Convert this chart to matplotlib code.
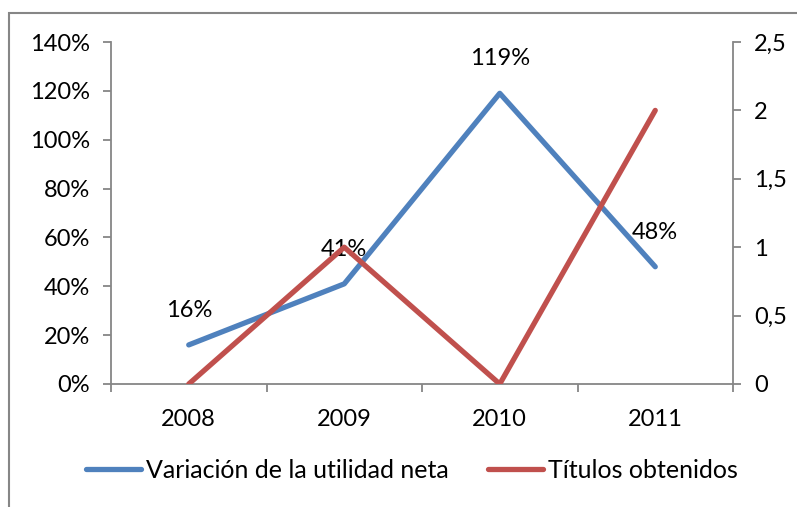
import matplotlib.pyplot as plt
from matplotlib.patches import Rectangle
from matplotlib.lines import Line2D

years = ["2008", "2009", "2010", "2011"]
variacion = [0.16, 0.41, 1.19, 0.48]
titulos = [0, 1, 0, 2]
left_ticks = [0, 0.2, 0.4, 0.6, 0.8, 1.0, 1.2, 1.4]
right_ticks = [0, 0.5, 1, 1.5, 2, 2.5]

blue = "#4F81BD"
red = "#C0504D"
grey = "#868686"

plt.rcParams['font.family'] = ['Lato', 'DejaVu Sans']
fs = 17

fig = plt.figure(figsize=(7.97, 5.07), dpi=100)
# chart border
fig.patches.append(Rectangle((9 / 797, -0.1), 1.0, 1 - 13 / 507 + 0.1, transform=fig.transFigure,
                             fill=False, edgecolor=grey, lw=1.5))

ax = fig.add_axes([111 / 797, 1 - 384 / 507, (733 - 111) / 797, (384 - 42) / 507])
ax2 = ax.twinx()

x = range(len(years))
ax.plot(x, variacion, color=blue, lw=3.8, solid_capstyle='round', zorder=3)
ax2.plot(x, titulos, color=red, lw=3.8, solid_capstyle='round', zorder=3)

for xi, v in zip(x, variacion):
    ax.annotate(f"{round(v * 100)}%", (xi, v), xytext=(0, 25), textcoords='offset points',
                ha='center', va='center', fontsize=fs)

ax.set_xlim(-0.5, len(years) - 0.5)
ax.set_ylim(0, 1.4)
ax2.set_ylim(0, 2.5)
ax.set_yticks(left_ticks)
ax.set_yticklabels([f"{round(t * 100)}%" for t in left_ticks], fontsize=fs)
ax2.set_yticks(right_ticks)
ax2.set_yticklabels([f"{t:g}".replace(".", ",") for t in right_ticks], fontsize=fs)

ax.set_xticks([i - 0.5 for i in range(len(years) + 1)], minor=False)
ax.set_xticklabels([])
ax.set_xticks(list(x), minor=True)
ax.set_xticklabels(years, minor=True, fontsize=fs)
ax.tick_params(axis='x', which='minor', length=0, pad=18)
ax.tick_params(axis='x', which='major', length=6, color=grey, width=1.3)
ax.tick_params(axis='y', length=6, color=grey, width=1.3, pad=9)
ax2.tick_params(axis='y', length=6, color=grey, width=1.3, pad=9)

for a in (ax, ax2):
    for s in a.spines.values():
        s.set_visible(False)
ax.spines['left'].set_visible(True)
ax.spines['bottom'].set_visible(True)
ax2.spines['right'].set_visible(True)
for s in (ax.spines['left'], ax.spines['bottom'], ax2.spines['right']):
    s.set_color(grey)
    s.set_linewidth(1.3)

handles = [Line2D([], [], color=blue, lw=3.8, solid_capstyle='round'),
           Line2D([], [], color=red, lw=3.8, solid_capstyle='round')]
fig.legend(handles, ["Variación de la utilidad neta", "Títulos obtenidos"],
           loc='center', bbox_to_anchor=(0.517, 1 - 470 / 507), ncol=2, frameon=False,
           fontsize=18, handlelength=2.2, handletextpad=0.2, columnspacing=1.6,
           borderpad=0, borderaxespad=0)

fig.savefig("out.png", dpi=100)
